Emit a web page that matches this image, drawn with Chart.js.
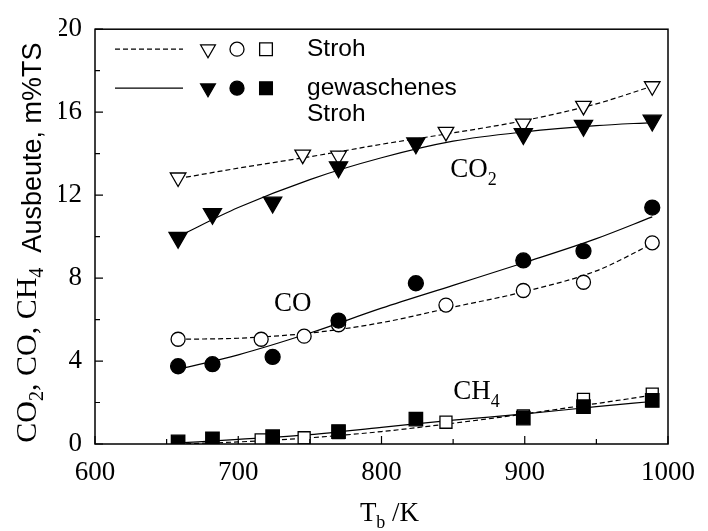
<!DOCTYPE html>
<html>
<head>
<meta charset="utf-8">
<script src="https://cdn.jsdelivr.net/npm/chart.js@4/dist/chart.umd.min.js"></script>
<style>
  html, body { margin: 0; padding: 0; background: #fff; }
  #wrap { width: 708px; height: 531px; position: relative; }
</style>
</head>
<body>
<div id="wrap"><canvas id="yieldChart"></canvas></div>
<script>
// measured points, straw (Stroh) and washed straw (gewaschenes Stroh)
var tRawCO2 = [658, 745, 770, 845, 899, 941, 989];
var co2Raw = [12.85, 13.95, 13.9, 15.05, 15.45, 16.3, 17.25];
var tRaw = [658, 716, 746, 770, 845, 899, 941, 989];
var coRaw = [5.05, 5.05, 5.2, 5.75, 6.7, 7.4, 7.8, 9.7];
var ch4Raw = [0.08, 0.2, 0.3, 0.55, 1.05, 1.35, 2.15, 2.4];

var tWashed = [658, 682, 724, 770, 824, 899, 941, 989];
var co2Washed = [9.95, 11.1, 11.65, 13.35, 14.5, 14.95, 15.35, 15.6];
var coWashed = [3.75, 3.85, 4.2, 5.95, 7.75, 8.85, 9.3, 11.4];
var ch4Washed = [0.1, 0.25, 0.35, 0.6, 1.2, 1.25, 1.8, 2.1];

// fitted curves
var tFit = [658, 700, 750, 800, 850, 900, 950, 989];
var co2RawFit = [12.8, 13.3, 13.85, 14.45, 15.0, 15.6, 16.4, 17.25];
var co2WashedFit = [10.0, 11.4, 12.75, 13.8, 14.6, 15.05, 15.35, 15.5];
var coRawFit = [5.05, 5.1, 5.35, 5.85, 6.6, 7.35, 8.35, 9.65];
var coWashedFit = [3.6, 4.3, 5.35, 6.55, 7.65, 8.75, 9.9, 10.95];
var ch4RawFit = [0.0, 0.1, 0.3, 0.6, 1.0, 1.45, 1.95, 2.35];
var ch4WashedFit = [0.05, 0.22, 0.45, 0.8, 1.15, 1.45, 1.8, 2.05];

var xMajor = [600, 700, 800, 900, 1000];
var xMinor = [650, 750, 850, 950];
var yMajor = [0, 4, 8, 12, 16, 20];
var yMinor = [2, 6, 10, 14, 18];

var SERIF = '"Liberation Serif", "DejaVu Serif", serif';
var SANS = '"Liberation Sans", Arial, sans-serif';

function pts(xs, ys) {
  return ys.map(function (v, i) { return { x: xs[i], y: v }; });
}

function fitLine(xs, ys, dashed) {
  return {
    data: pts(xs, ys),
    showLine: true,
    borderColor: '#000',
    borderWidth: 1.2,
    borderDash: dashed ? [5, 3] : [],
    pointRadius: 0,
    cubicInterpolationMode: 'monotone',
    order: 3
  };
}

function markers(xs, ys, style, radius, filled, rot) {
  return {
    data: pts(xs, ys),
    showLine: false,
    pointStyle: style,
    pointRadius: radius,
    pointRotation: rot || 0,
    pointBackgroundColor: filled ? '#000' : '#fff',
    pointBorderColor: '#000',
    pointBorderWidth: 1.3,
    order: filled ? 0 : 1
  };
}

// draws a list of text pieces {t, font, dy} one after the other
function runsWidth(ctx, runs) {
  var w = 0;
  runs.forEach(function (r) { ctx.font = r.font; w += ctx.measureText(r.t).width; });
  return w;
}
function drawRuns(ctx, runs, x, y) {
  runs.forEach(function (r) {
    ctx.font = r.font;
    ctx.fillText(r.t, x, y + (r.dy || 0));
    x += ctx.measureText(r.t).width;
  });
}

var big = '27px ' + SERIF;
var sub = '18px ' + SERIF;

var notes = [
  { x: 848, y: 12.85, runs: [{ t: 'CO', font: big }, { t: '2', font: sub, dy: 8 }] },
  { x: 725, y: 6.4, runs: [{ t: 'CO', font: big }] },
  { x: 850, y: 2.18, runs: [{ t: 'CH', font: big }, { t: '4', font: sub, dy: 8 }] }
];

var overlay = {
  id: 'overlay',
  afterDraw: function (chart) {
    var ctx = chart.ctx, a = chart.chartArea;
    var xs = chart.scales.x, ys = chart.scales.y;
    ctx.save();
    ctx.strokeStyle = '#000';
    ctx.fillStyle = '#000';
    ctx.lineWidth = 1.5;
    ctx.strokeRect(a.left, a.top, a.right - a.left, a.bottom - a.top);

    // inward ticks
    ctx.lineWidth = 1.2;
    ctx.beginPath();
    xMajor.forEach(function (v) { var p = xs.getPixelForValue(v); ctx.moveTo(p, a.bottom); ctx.lineTo(p, a.bottom - 8); });
    xMinor.forEach(function (v) { var p = xs.getPixelForValue(v); ctx.moveTo(p, a.bottom); ctx.lineTo(p, a.bottom - 5); });
    yMajor.forEach(function (v) { var p = ys.getPixelForValue(v); ctx.moveTo(a.left, p); ctx.lineTo(a.left + 8, p); });
    yMinor.forEach(function (v) { var p = ys.getPixelForValue(v); ctx.moveTo(a.left, p); ctx.lineTo(a.left + 5, p); });
    ctx.stroke();

    // species labels
    ctx.textBaseline = 'alphabetic';
    ctx.textAlign = 'left';
    notes.forEach(function (n) {
      drawRuns(ctx, n.runs, xs.getPixelForValue(n.x), ys.getPixelForValue(n.y));
    });

    // legend
    var lx = a.left, ty = a.top;
    var rows = [
      { y: ty + 20, dash: [5, 3], filled: false, text: ['Stroh'] },
      { y: ty + 59, dash: [], filled: true, text: ['gewaschenes', 'Stroh'] }
    ];
    var syms = [
      { style: 'triangle', r: 8.5, rot: 180, dx: 113 },
      { style: 'circle', r: 7, rot: 0, dx: 142 },
      { style: 'rect', r: 9, rot: 0, dx: 171 }
    ];
    rows.forEach(function (row) {
      ctx.setLineDash(row.dash);
      ctx.lineWidth = 1.2;
      ctx.beginPath();
      ctx.moveTo(lx + 20, row.y);
      ctx.lineTo(lx + 88, row.y);
      ctx.stroke();
      ctx.setLineDash([]);
      syms.forEach(function (s) {
        ctx.fillStyle = row.filled ? '#000' : '#fff';
        ctx.strokeStyle = '#000';
        ctx.lineWidth = 1.3;
        Chart.helpers.drawPoint(ctx, { pointStyle: s.style, radius: s.r, rotation: s.rot, borderWidth: 1.3 }, lx + s.dx, row.y);
      });
      ctx.fillStyle = '#000';
      ctx.font = '24.5px ' + SANS;
      ctx.textBaseline = 'middle';
      row.text.forEach(function (t, i) { ctx.fillText(t, lx + 212, row.y + i * 26); });
    });

    // axis titles
    ctx.textBaseline = 'alphabetic';
    var xt = [{ t: 'T', font: big }, { t: 'b', font: sub, dy: 7 }, { t: ' /K', font: big }];
    var cx = (a.left + a.right) / 2;
    drawRuns(ctx, xt, cx - runsWidth(ctx, xt) / 2 + 8, 521);

    var ytBig = '30px ' + SERIF, ytSub = '20px ' + SERIF;
    var yt = [
      { t: 'CO', font: ytBig }, { t: '2', font: ytSub, dy: 7 },
      { t: ', CO, CH', font: ytBig }, { t: '4', font: ytSub, dy: 7 },
      { t: '  Ausbeute, m%TS', font: '27px ' + SANS, dy: 5 }
    ];
    ctx.translate(36, (a.top + a.bottom) / 2 + 6);
    ctx.rotate(-Math.PI / 2);
    drawRuns(ctx, yt, -runsWidth(ctx, yt) / 2, 0);
    ctx.restore();
  }
};

new Chart(document.getElementById('yieldChart'), {
  type: 'scatter',
  data: {
    datasets: [
      fitLine(tFit, co2RawFit, true),
      fitLine(tFit, co2WashedFit, false),
      fitLine(tFit, coRawFit, true),
      fitLine(tFit, coWashedFit, false),
      fitLine(tFit, ch4RawFit, true),
      fitLine(tFit, ch4WashedFit, false),
      markers(tRawCO2, co2Raw, 'triangle', 9, false, 180),
      markers(tRaw, coRaw, 'circle', 7, false),
      markers(tRaw, ch4Raw, 'rect', 8.5, false),
      markers(tWashed, co2Washed, 'triangle', 10.5, true, 180),
      markers(tWashed, coWashed, 'circle', 7.5, true),
      markers(tWashed, ch4Washed, 'rect', 9.5, true)
    ]
  },
  options: {
    responsive: true,
    maintainAspectRatio: false,
    animation: false,
    layout: { padding: { left: 59, right: 33, top: 22, bottom: 0 } },
    plugins: {
      legend: { display: false },
      tooltip: { enabled: false }
    },
    scales: {
      x: {
        type: 'linear',
        min: 600,
        max: 1000,
        afterBuildTicks: function (s) { s.ticks = xMajor.map(function (v) { return { value: v }; }); },
        afterFit: function (s) { s.height = 87; },
        grid: { display: false, drawTicks: false },
        border: { display: false },
        ticks: {
          color: '#000', padding: 13, maxRotation: 0,
          font: { family: SERIF, size: 27 },
          callback: function (v) { return String(v); }
        }
      },
      y: {
        type: 'linear',
        min: 0,
        max: 20,
        afterBuildTicks: function (s) { s.ticks = yMajor.map(function (v) { return { value: v }; }); },
        afterFit: function (s) { s.width = 36; },
        grid: { display: false, drawTicks: false },
        border: { display: false },
        ticks: {
          color: '#000', padding: 13,
          font: { family: SERIF, size: 27 },
          callback: function (v) { return String(v); }
        }
      }
    }
  },
  plugins: [overlay]
});
</script>
</body>
</html>
